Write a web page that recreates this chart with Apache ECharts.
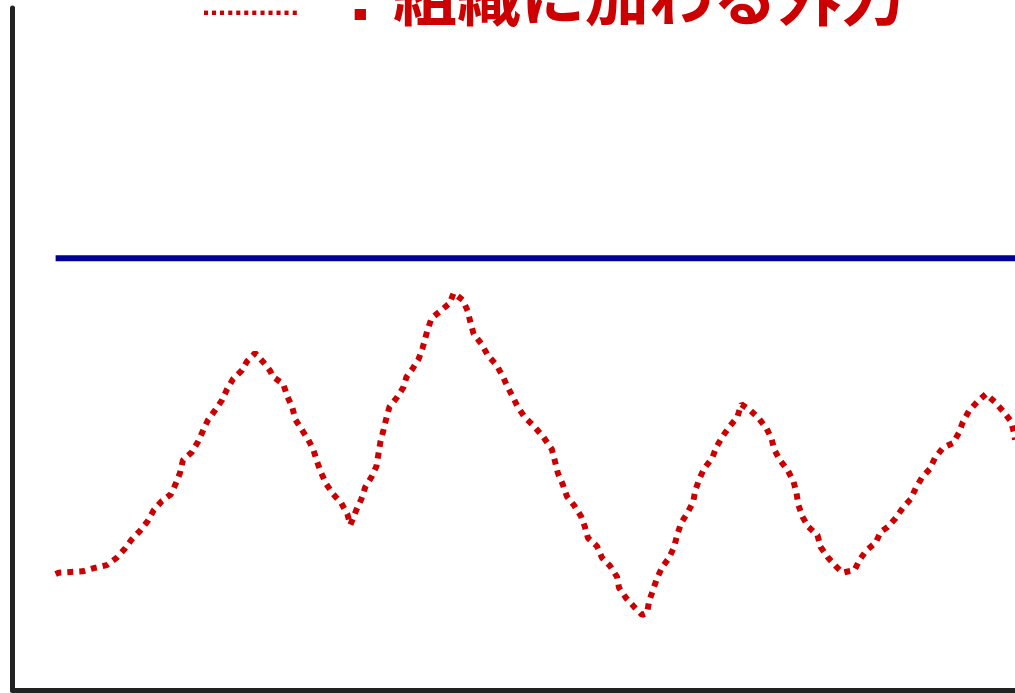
<!DOCTYPE html>
<html>
<head>
<meta charset="utf-8">
<script src="https://cdn.jsdelivr.net/npm/echarts@6/dist/echarts.min.js"></script>
<style>
  html, body { margin: 0; padding: 0; background: #fff; }
  #chart { width: 1015px; height: 693px; }
</style>
</head>
<body>
<div id="chart"></div>
<script>
// time (x) and external force (y)
const time = [4.3, 4.6, 5.8, 7.0, 8.2, 9.4, 10.4, 11.2, 11.9, 12.7, 13.5, 14.1, 14.9, 15.8, 16.3, 16.7, 17.0, 17.9, 18.5, 19.0,
  19.5, 20.2, 20.9, 21.4, 22.0, 22.9, 23.4, 24.2, 25.0, 25.7, 26.0, 27.0, 27.4, 27.9, 28.2, 28.8, 29.5, 30.0, 30.4, 30.8,
  31.3, 32.0, 32.8, 33.4, 33.7, 34.3, 34.8, 35.2, 35.8, 36.3, 36.5, 36.7, 37.0, 37.3, 37.6, 38.4, 39.0, 39.3, 39.9, 40.5,
  40.9, 41.1, 41.4, 41.8, 42.7, 43.6, 44.0, 44.9, 45.4, 45.7, 46.0, 46.8, 47.4, 48.3, 48.9, 49.4, 49.9, 50.4, 51.1, 52.0,
  52.9, 53.8, 54.1, 54.4, 54.9, 55.3, 56.0, 56.7, 57.1, 57.4, 58.3, 58.8, 59.6, 60.3, 60.5, 61.2, 62.0, 62.8, 63.3, 63.5,
  63.9, 64.3, 64.8, 65.5, 66.0, 66.3, 66.7, 67.3, 67.9, 68.1, 68.5, 69.0, 69.8, 70.2, 70.8, 71.5, 72.3, 72.7, 73.6, 74.4,
  75.2, 75.7, 76.0, 76.6, 77.3, 77.9, 78.2, 78.4, 78.8, 79.4, 80.3, 80.6, 81.3, 82.1, 82.8, 84.0, 84.5, 85.2, 86.1, 86.6,
  87.3, 88.1, 88.8, 89.6, 90.1, 90.7, 91.5, 92.0, 92.8, 93.8, 94.4, 94.8, 95.4, 96.2, 97.1, 98.0, 98.8, 99.6, 99.9, 100.0]

const externalForce = [17.0, 17.2, 17.3, 17.4, 17.9, 18.3, 19.4, 20.7, 22.1, 23.3, 24.8, 26.4, 27.7, 28.7, 30.3, 31.8, 33.7, 34.9, 36.4, 38.0,
  39.6, 41.0, 42.5, 44.1, 45.6, 46.9, 48.2, 49.4, 48.1, 46.8, 45.9, 44.9, 43.1, 41.5, 39.7, 38.3, 36.7, 35.3, 33.4, 31.8,
  30.2, 28.7, 27.4, 25.8, 24.2, 26.4, 28.0, 29.8, 31.2, 32.8, 34.6, 36.4, 38.1, 39.9, 41.5, 43.0, 44.4, 45.9, 47.1, 48.5,
  50.1, 51.2, 52.8, 54.5, 55.6, 56.7, 58.2, 57.2, 55.6, 53.8, 52.2, 50.7, 49.1, 47.6, 46.0, 44.4, 43.0, 41.5, 40.0, 38.7,
  37.2, 35.3, 33.6, 31.8, 30.1, 28.4, 27.1, 25.5, 23.9, 22.3, 21.1, 19.4, 18.2, 16.6, 15.0, 13.5, 12.2, 11.0, 11.3, 13.0,
  14.7, 16.4, 18.0, 19.4, 21.0, 22.7, 24.5, 25.9, 27.6, 29.2, 30.9, 32.5, 34.0, 35.6, 37.1, 38.6, 40.0, 41.9, 41.0, 39.9,
  38.4, 36.9, 35.2, 33.6, 32.3, 30.6, 28.9, 27.1, 25.4, 23.9, 22.7, 21.0, 19.5, 18.2, 17.2, 17.6, 19.1, 20.5, 21.6, 23.2,
  23.9, 25.2, 26.7, 28.0, 29.6, 31.1, 32.4, 34.0, 35.5, 36.2, 37.7, 39.3, 40.9, 42.2, 43.4, 42.2, 40.9, 39.4, 37.7, 36.7]

// the blue reference level
const limitTime = [4.3, 100]
const limitForce = 63.3

const titleDots = '............'
const titleColon = ':'
const titleText = '組織に加わる外力'

const chart = echarts.init(document.getElementById('chart'))

const red = '#cc0000'

chart.setOption({
  animation: false,
  backgroundColor: '#fff',
  // legend-like caption at the top, split in three so each piece can sit where it does in the picture
  title: [
    {
      text: titleDots,
      left: 197,
      top: -13,
      textStyle: { fontSize: 29, lineHeight: 30, color: red, fontWeight: 'bold', fontFamily: '"Liberation Sans", sans-serif' },
    },
    {
      text: titleColon,
      left: 342,
      top: -47,
      textStyle: { fontSize: 80, lineHeight: 80, color: red, fontWeight: 'bold', fontFamily: '"Liberation Sans", sans-serif' },
    },
    {
      text: titleText,
      left: 388,
      top: -41,
      textStyle: { fontSize: 64, lineHeight: 63, color: red, fontWeight: 'bold', fontFamily: '"Noto Sans CJK JP", sans-serif' },
    },
  ],
  grid: { left: 12.5, right: 0, top: 8, bottom: 3 },
  xAxis: {
    type: 'value',
    min: 0,
    max: 100,
    axisLine: { lineStyle: { color: '#222', width: 5 } },
    axisTick: { show: false },
    axisLabel: { show: false },
    splitLine: { show: false },
  },
  yAxis: {
    type: 'value',
    min: 0,
    max: 100,
    axisLine: { show: true, lineStyle: { color: '#222', width: 5 } },
    axisTick: { show: false },
    axisLabel: { show: false },
    splitLine: { show: false },
  },
  series: [
    {
      type: 'line',
      data: limitTime.map(t => [t, limitForce]),
      symbol: 'none',
      lineStyle: { color: '#000099', width: 6 },
    },
    {
      type: 'line',
      data: time.map((t, i) => [t, externalForce[i]]),
      symbol: 'none',
      lineStyle: { color: red, width: 6, type: [6, 6], cap: 'butt' },
    },
  ],
})
</script>
</body>
</html>
